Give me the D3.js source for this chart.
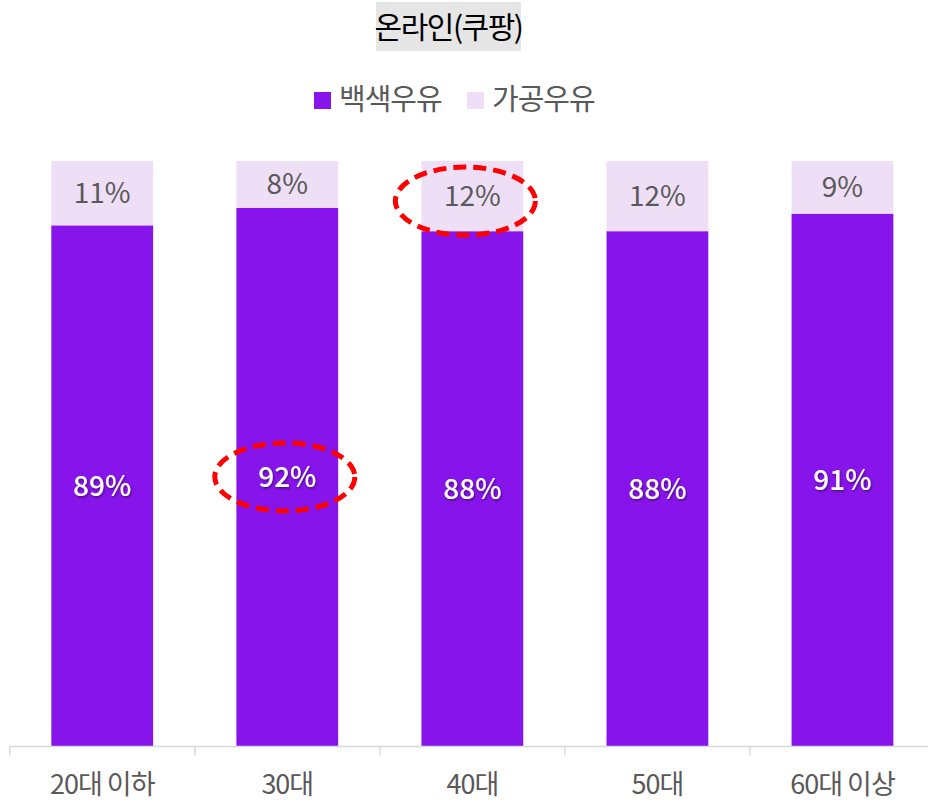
<!DOCTYPE html>
<html><head><meta charset="utf-8">
<script src="https://cdn.jsdelivr.net/npm/d3@7"></script>
<style>
body{margin:0;background:#fff;}
text{font-family:"Noto Sans CJK KR","Noto Sans",sans-serif;}
</style></head>
<body><svg id="c" width="928" height="802"></svg>
<script>
const title = "온라인(쿠팡)";
const categories = ["20대 이하","30대","40대","50대","60대 이상"];
const seriesNames = ["백색우유","가공우유"];
const white = [89,92,88,88,91];
const processed = [11,8,12,12,9];
const highlights = [{cat:"30대", series:0},{cat:"40대", series:1}];
const colors = ["#8714EA","#EEDFF6"];

const svg = d3.select("#c");
const x = d3.scaleBand().domain(categories).range([9.7, 935]).paddingInner(0.45).paddingOuter(0.225);
const y = d3.scaleLinear().domain([0,100]).range([746,161]);

const rows = categories.map((c,i)=>({cat:c, "백색우유":white[i], "가공우유":processed[i]}));
const stack = d3.stack().keys(seriesNames)(rows);

const defs = svg.append("defs");
const f = defs.append("filter").attr("id","sh").attr("x","-20%").attr("y","-20%").attr("width","140%").attr("height","140%");
f.append("feDropShadow").attr("dx",1).attr("dy",1.5).attr("stdDeviation",1).attr("flood-color","#000").attr("flood-opacity",0.45);

stack.forEach((s,si)=>{
  const g = svg.append("g");
  g.selectAll("rect").data(s).join("rect")
    .attr("x", d=>x(d.data.cat)).attr("width", x.bandwidth())
    .attr("y", d=>y(d[1])).attr("height", d=>y(d[0])-y(d[1]))
    .attr("fill", colors[si]);
  g.selectAll("text").data(s).join("text")
    .attr("x", d=>x(d.data.cat)+x.bandwidth()/2)
    .attr("y", d=>(y(d[0])+y(d[1]))/2)
    .attr("dy","0.36em").attr("text-anchor","middle")
    .attr("font-size", 28)
    .attr("font-weight", si===0 ? 500 : 400)
    .attr("fill", si===0 ? "#fff" : "#595959")
    .attr("filter", si===0 ? "url(#sh)" : null)
    .text(d=>(d[1]-d[0])+"%");
});

// axis
const ax = svg.append("g").attr("transform","translate(0,746.5)");
ax.append("line").attr("x1",9.7).attr("x2",928).attr("stroke","#d9d9d9").attr("stroke-width",1.5);
const step = x.step();
const ticks = d3.range(categories.length).map(i=>9.7+i*step);
ax.selectAll("line.t").data(ticks).join("line").attr("class","t")
  .attr("x1",d=>d).attr("x2",d=>d).attr("y1",0).attr("y2",9)
  .attr("stroke","#d9d9d9").attr("stroke-width",1.5);
ax.selectAll("text").data(categories).join("text")
  .attr("x", d=>x(d)+x.bandwidth()/2).attr("y", 38)
  .attr("dy","0.36em").attr("text-anchor","middle")
  .attr("font-size",27).attr("fill","#595959").attr("letter-spacing","-1")
  .text(d=>d);

// title
const tg = svg.append("g");
tg.append("rect").attr("x",376).attr("y",2).attr("width",145).attr("height",49).attr("fill","#e6e6e6");
tg.append("text").attr("x",448.5).attr("y",27).attr("dy","0.36em").attr("text-anchor","middle")
  .attr("font-size",30).attr("fill","#000").attr("letter-spacing","-1.5").text(title);

// legend
const lg = svg.append("g");
const legX = [314, 467];
seriesNames.forEach((n,i)=>{
  lg.append("rect").attr("x",legX[i]).attr("y",92).attr("width",17).attr("height",17).attr("fill",colors[i]);
  lg.append("text").attr("x",legX[i]+25).attr("y",100).attr("dy","0.36em")
    .attr("font-size",29).attr("fill","#595959").attr("letter-spacing","-1").text(n);
});

// highlight ellipses
const eg = svg.append("g");
highlights.forEach(h=>{
  const s = stack[h.series];
  const d = s[categories.indexOf(h.cat)];
  const cx = x(h.cat)+x.bandwidth()/2 - (h.series===0?2.5:7);
  const cy = (y(d[0])+y(d[1]))/2 + (h.series===0?0:5);
  eg.append("ellipse").attr("cx",cx).attr("cy",cy).attr("rx",70).attr("ry",34)
    .attr("fill","none").attr("stroke","#ff0000").attr("stroke-width",5)
    .attr("stroke-dasharray","13,7");
});
</script></body></html>
